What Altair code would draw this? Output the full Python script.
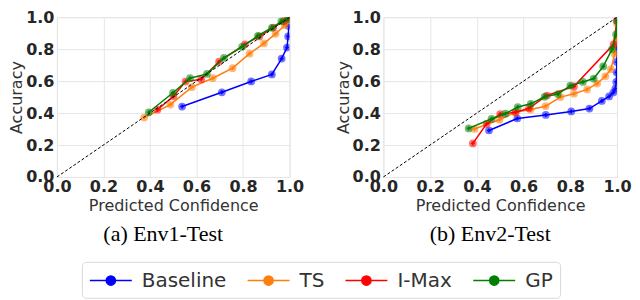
import altair as alt
import pandas as pd

SERIES = ["Baseline", "TS", "I-Max", "GP"]
COLORS = ["#0000ff", "#ff7f0e", "#ff0000", "#008000"]
TICKS = [0.0, 0.2, 0.4, 0.6, 0.8, 1.0]
CAPTIONS = ["(a) Env1-Test", "(b) Env2-Test"]

# ---- Env1-Test ----
env1_baseline_x = [0.538, 0.709, 0.835, 0.924, 0.966, 0.989, 0.994, 0.997]
env1_baseline_y = [0.441, 0.530, 0.598, 0.642, 0.741, 0.810, 0.880, 0.945]
env1_ts_x = [0.375, 0.488, 0.580, 0.670, 0.755, 0.828, 0.890, 0.940, 0.980, 0.995]
env1_ts_y = [0.372, 0.453, 0.562, 0.618, 0.681, 0.772, 0.836, 0.896, 0.950, 0.985]
env1_imax_x = [0.432, 0.501, 0.553, 0.620, 0.697, 0.808, 0.870, 0.930, 0.975, 0.995]
env1_imax_y = [0.421, 0.505, 0.597, 0.612, 0.722, 0.830, 0.880, 0.935, 0.976, 0.992]
env1_gp_x = [0.395, 0.499, 0.572, 0.645, 0.718, 0.796, 0.864, 0.924, 0.965, 0.992]
env1_gp_y = [0.405, 0.527, 0.618, 0.645, 0.745, 0.815, 0.884, 0.934, 0.974, 0.990]

# ---- Env2-Test ----
env2_baseline_x = [0.452, 0.573, 0.695, 0.804, 0.882, 0.935, 0.966, 0.984, 0.993, 0.997, 0.998, 0.999, 1.0]
env2_baseline_y = [0.291, 0.366, 0.388, 0.410, 0.428, 0.476, 0.504, 0.528, 0.553, 0.595, 0.655, 0.720, 0.820]
env2_ts_x = [0.389, 0.497, 0.565, 0.630, 0.694, 0.758, 0.816, 0.872, 0.915, 0.950, 0.974, 0.990, 0.997, 1.0]
env2_ts_y = [0.300, 0.358, 0.405, 0.422, 0.443, 0.500, 0.521, 0.548, 0.585, 0.630, 0.675, 0.770, 0.850, 0.960]
env2_imax_x = [0.383, 0.442, 0.500, 0.566, 0.623, 0.700, 0.816, 0.985, 1.0]
env2_imax_y = [0.210, 0.333, 0.394, 0.405, 0.430, 0.510, 0.567, 0.830, 0.980]
env2_gp_x = [0.365, 0.463, 0.522, 0.575, 0.631, 0.690, 0.747, 0.800, 0.854, 0.900, 0.941, 0.979, 0.996, 1.0]
env2_gp_y = [0.304, 0.364, 0.396, 0.438, 0.458, 0.502, 0.519, 0.572, 0.595, 0.616, 0.692, 0.800, 0.892, 0.976]

DIAG_X = [0.0, 1.0]
DIAG_Y = [0.0, 1.0]

panels = {
    "Env1": [(env1_baseline_x, env1_baseline_y), (env1_ts_x, env1_ts_y),
             (env1_imax_x, env1_imax_y), (env1_gp_x, env1_gp_y)],
    "Env2": [(env2_baseline_x, env2_baseline_y), (env2_ts_x, env2_ts_y),
             (env2_imax_x, env2_imax_y), (env2_gp_x, env2_gp_y)],
}

rows = []
for pname, lst in panels.items():
    for s, (xs, ys) in zip(SERIES, lst):
        for i, (xv, yv) in enumerate(zip(xs, ys)):
            rows.append({"panel": pname, "series": s, "idx": i, "x": xv, "y": yv})
df = pd.DataFrame(rows)
diag = pd.DataFrame({"x": DIAG_X, "y": DIAG_Y})

LEG_PATH = "M-2,0H2M-0.44,0A0.44,0.44,0,1,0,0.44,0A0.44,0.44,0,1,0,-0.44,0Z"

color = alt.Color(
    "series:N",
    scale=alt.Scale(domain=SERIES, range=COLORS),
    legend=alt.Legend(
        title=None, orient="none", legendX=25, legendY=245,
        direction="horizontal", columns=4,
        symbolType=LEG_PATH, symbolSize=441, symbolStrokeWidth=1.5,
        symbolOpacity=1, symbolOffset=10.5,
        labelFontSize=20, labelFont="DejaVu Sans", labelColor="#333333",
        labelOffset=19.5, columnPadding=18, padding=7,
        strokeColor="#d8d8d8", cornerRadius=4, fillColor="white",
    ),
)

xsc = alt.Scale(domain=[0, 1], nice=False)
ysc = alt.Scale(domain=[0, 1], nice=False)
xax = alt.Axis(values=TICKS, format=".1f", title="Predicted Confidence",
               labelPadding=2, titlePadding=3, labelFlush=False, labelOverlap=False)
yax = alt.Axis(values=TICKS, format=".1f", title="Accuracy",
               labelPadding=3, titlePadding=1, labelOverlap=False)


def make_panel(pname, caption, width):
    d = df[df.panel == pname]
    layers = []
    X = alt.X("x:Q", scale=xsc, axis=xax)
    Y = alt.Y("y:Q", scale=ysc, axis=yax)
    for s in SERIES:
        sub = alt.Chart(d[d.series == s])
        layers.append(sub.mark_line(strokeWidth=1.5, clip=True).encode(
            x=X, y=Y, color=color, order=alt.Order("idx:Q")))
        layers.append(sub.mark_point(filled=True, shape="circle", size=60,
                                     opacity=0.55, clip=True).encode(
            x=X, y=Y, color=color))
        layers.append(sub.mark_point(filled=True, shape="cross", size=16,
                                     opacity=0.9, clip=True).encode(
            x=X, y=Y, color=color))
    dl = alt.Chart(diag).mark_line(color="black", strokeWidth=1,
                                   strokeDash=[3, 2]).encode(x=X, y=Y)
    layers.append(dl)
    return alt.layer(*layers).properties(
        width=width, height=160,
        title=alt.TitleParams(caption, orient="bottom", frame="group",
                              anchor="middle", offset=10, dx=-10,
                              font="Liberation Serif", fontSize=22,
                              fontWeight="normal", color="black"),
    )


chart = alt.hconcat(
    make_panel("Env1", CAPTIONS[0], 233),
    make_panel("Env2", CAPTIONS[1], 234),
    spacing=30,
).properties(padding=0, background="white").configure_view(
    stroke="#e6e6e6"
).configure_axis(
    labelFont="DejaVu Sans", labelFontWeight="bold", labelFontSize=16,
    labelColor="#262626", titleFont="DejaVu Sans", titleFontWeight="normal",
    titleFontSize=16, titleColor="#333333", grid=True, gridColor="#e6e6e6",
    ticks=False, domain=False,
)

chart.save("out.html", embed_options={"renderer": "svg", "actions": False})
